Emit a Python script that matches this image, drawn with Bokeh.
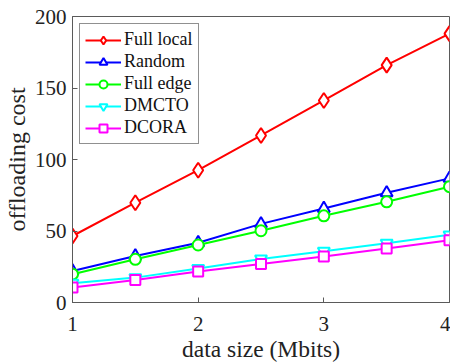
from bokeh.plotting import figure
from bokeh.models import Range1d, FixedTicker, Legend, LegendItem
from bokeh.embed import file_html
from bokeh.resources import INLINE

data_size = [1, 1.5, 2, 2.5, 3, 3.5, 4]
full_local = [46.5, 69.8, 92.5, 116.8, 141.3, 166, 188]
random_ = [22, 32.5, 41.8, 55, 65.7, 76.7, 86.8]
full_edge = [19.8, 30.2, 40.2, 50.2, 60.6, 70.4, 81]
dmcto = [13.5, 17.4, 23.8, 30.4, 35.8, 41.4, 47.3]
dcora = [10.5, 15.8, 21.6, 27, 32.2, 37.7, 43.6]
x_ticks = [1, 2, 3, 4]
y_ticks = [0, 50, 100, 150, 200]

series = [
    ("Full local", full_local, "#ff0000", "diamond", 15),
    ("Random", random_, "#0000ff", "triangle", 12),
    ("Full edge", full_edge, "#00ff00", "circle", 11),
    ("DMCTO", dmcto, "#00ffff", "inverted_triangle", 12),
    ("DCORA", dcora, "#ff00ff", "square", 10),
]

FONT = "Liberation Serif"
AX = "#5a5a5a"

p = figure(frame_width=377, frame_height=286, output_backend="svg", toolbar_location=None,
           x_range=Range1d(1, 4), y_range=Range1d(0, 200),
           min_border_left=68, min_border_right=1, min_border_top=16, min_border_bottom=60)
p.xgrid.visible = False
p.ygrid.visible = False
p.outline_line_color = AX
p.outline_line_width = 1
p.background_fill_color = "white"

for ax in (p.xaxis[0], p.yaxis[0]):
    ax.axis_line_color = AX
    ax.major_tick_line_color = AX
    ax.major_tick_in = 5
    ax.major_tick_out = 0
    ax.minor_tick_line_color = None
    ax.major_label_text_font = FONT
    ax.major_label_text_font_size = "21px"
    ax.major_label_text_color = "#222222"
    ax.axis_label_text_font = FONT
    ax.axis_label_text_font_style = "normal"
    ax.axis_label_text_color = "#222222"

p.xaxis.axis_label_text_font_size = "23.5px"
p.yaxis.axis_label_text_font_size = "24px"
p.xaxis.ticker = FixedTicker(ticks=x_ticks)
p.yaxis.ticker = FixedTicker(ticks=y_ticks)
p.xaxis.axis_label = "data size (Mbits)"
p.yaxis.axis_label = "offloading cost"
p.xaxis.major_label_standoff = 14
p.yaxis.major_label_standoff = 6
p.xaxis.axis_label_standoff = 2
p.yaxis.axis_label_standoff = 2

items = []
for name, ys, color, marker, size in series:
    r1 = p.line(data_size, ys, line_color=color, line_width=2)
    r2 = p.scatter(data_size, ys, marker=marker, size=size, line_color=color,
                   line_width=2, fill_color="white")
    items.append(LegendItem(label=name, renderers=[r1, r2]))

legend = Legend(items=items, location="top_left")
legend.label_text_font = FONT
legend.label_text_font_size = "18px"
legend.label_text_color = "#111111"
legend.label_height = 20
legend.glyph_height = 20
legend.glyph_width = 36
legend.spacing = 1
legend.padding = 5
legend.margin = 7
legend.label_standoff = 3
legend.border_line_color = "#222222"
legend.border_line_width = 1
legend.background_fill_alpha = 1
p.add_layout(legend)

open("out.html", "w").write(file_html(p, INLINE))
